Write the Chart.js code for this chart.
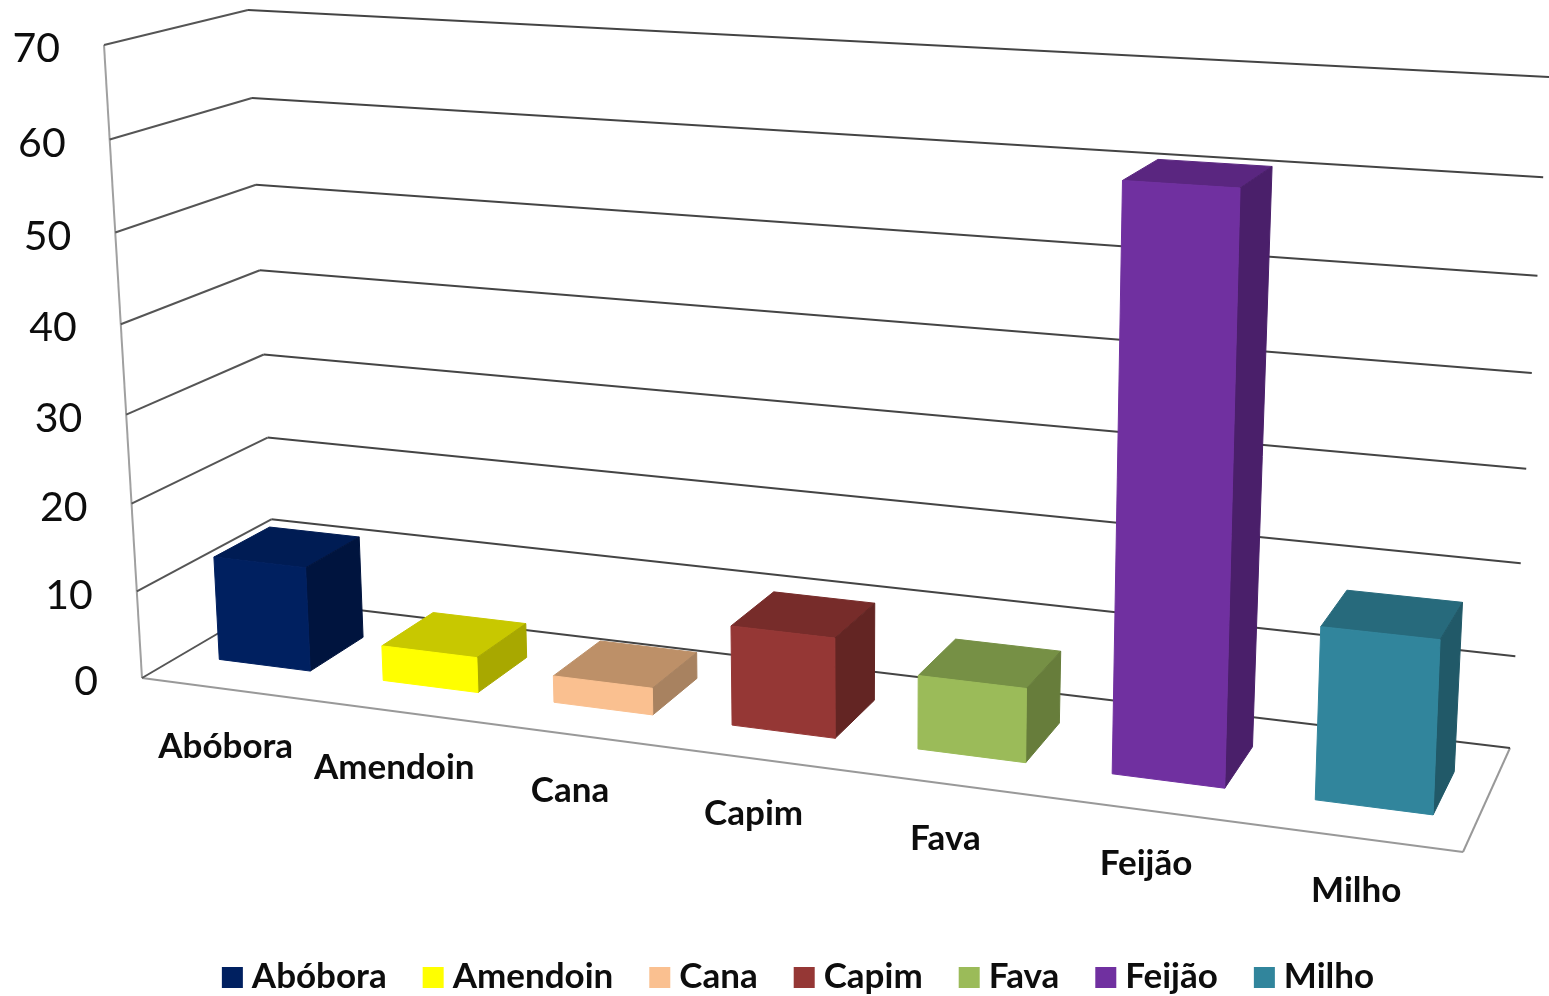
<!DOCTYPE html>
<html>
<head>
<meta charset="utf-8">
<style>
  html, body { margin: 0; padding: 0; background: #fff; }
  canvas { display: block; filter: blur(0.5px); }
</style>
<script src="https://cdn.jsdelivr.net/npm/chart.js@4/dist/chart.umd.min.js"></script>
</head>
<body>
<canvas id="chart" width="1549" height="996"></canvas>
<script>
const categories = ['Abóbora', 'Amendoin', 'Cana', 'Capim', 'Fava', 'Feijão', 'Milho'];
const values = [12, 4, 3, 11, 8, 61, 18];
const frontColors = ['#002060', '#ffff00', '#fac090', '#953735', '#9bbb59', '#7030a0', '#31859c'];
const topColors = ['#001c54', '#c8c800', '#bd9068', '#772c2a', '#769045', '#5a2680', '#276a7c'];
const sideColors = ['#00143e', '#a8a800', '#a88260', '#632523', '#677d3b', '#4a1f6a', '#215968'];
const yTicks = [0, 10, 20, 30, 40, 50, 60, 70];

const FONT = 'Lato, "Noto Sans", sans-serif';

// corners of the box: front-left, front-right, back-right, back-left
const floorQuad = [[142, 678], [1463, 852], [1510, 748], [275, 600]];
const roofQuad = [[104, 45], [1490, 123.5], [1549, 77], [248, 10]];
const depthFront = 0.285;
const depthBack = 0.705;
const barShift = 0.002;

function homography(q) {
    const [x0, y0] = q[0], [x1, y1] = q[1], [x2, y2] = q[2], [x3, y3] = q[3];
    const dx1 = x1 - x2, dx2 = x3 - x2, sx = x0 - x1 + x2 - x3;
    const dy1 = y1 - y2, dy2 = y3 - y2, sy = y0 - y1 + y2 - y3;
    const den = dx1 * dy2 - dx2 * dy1;
    const g = (sx * dy2 - dx2 * sy) / den;
    const h = (dx1 * sy - sx * dy1) / den;
    return [x1 - x0 + g * x1, x3 - x0 + h * x3, x0,
            y1 - y0 + g * y1, y3 - y0 + h * y3, y0, g, h];
}
const floorH = homography(floorQuad);
const roofH = homography(roofQuad);

function applyH(m, u, d) {
    const w = m[6] * u + m[7] * d + 1;
    return [(m[0] * u + m[1] * d + m[2]) / w, (m[3] * u + m[4] * d + m[5]) / w];
}

// u along the categories, v up the value axis, d into the depth (all 0..1)
function project(u, v, d) {
    const a = applyH(floorH, u, d), b = applyH(roofH, u, d);
    const k = 0.95;
    const t = v * k / (1 - v + v * k);
    return [a[0] + (b[0] - a[0]) * t, a[1] + (b[1] - a[1]) * t];
}

function poly(ctx, pts, fill) {
    ctx.beginPath();
    pts.forEach((pt, i) => i ? ctx.lineTo(pt[0], pt[1]) : ctx.moveTo(pt[0], pt[1]));
    ctx.closePath();
    ctx.fillStyle = fill;
    ctx.strokeStyle = fill;
    ctx.lineWidth = 1;
    ctx.fill();
    ctx.stroke();
}

function segment(ctx, a, b, color, width) {
    ctx.beginPath();
    ctx.moveTo(a[0], a[1]);
    ctx.lineTo(b[0], b[1]);
    ctx.strokeStyle = color;
    ctx.lineWidth = width;
    ctx.stroke();
}

const box3d = {
    id: 'box3d',
    // the flat bars are only used for their geometry
    beforeDatasetDraw() { return false; },
    afterDatasetsDraw(chart) {
        const ctx = chart.ctx, area = chart.chartArea;
        const xs = chart.scales.x, ys = chart.scales.y;
        const toU = px => (px - area.left) / area.width;
        const toV = px => (area.bottom - px) / area.height;
        ctx.save();

        // walls and floor
        segment(ctx, project(0, 0, 0), project(0, 1, 0), '#a0a0a0', 2);
        segment(ctx, project(0, 0, 0), project(1, 0, 0), '#999999', 2);
        segment(ctx, project(1, 0, 0), project(1, 0, 1), '#999999', 2);
        yTicks.forEach(t => {
            const v = toV(ys.getPixelForValue(t));
            segment(ctx, project(0, v, 0), project(0, v, 1), '#555555', 2);
            segment(ctx, project(0, v, 1), project(1, v, 1), '#444444', 2);
        });

        // value labels beside the left wall
        ctx.fillStyle = '#0d0d0d';
        ctx.font = '41px ' + FONT;
        ctx.textAlign = 'right';
        ctx.textBaseline = 'middle';
        yTicks.forEach(t => {
            const p = project(0, toV(ys.getPixelForValue(t)), 0);
            ctx.fillText(String(t), p[0] - 44, p[1] + 4);
        });

        // boxes
        const bars = chart.getDatasetMeta(0).data;
        bars.forEach((bar, i) => {
            const half = bar.width / 2;
            const u0 = toU(bar.x - half) + barShift, u1 = toU(bar.x + half) + barShift;
            const v = toV(bar.y);
            const f = depthFront, b = depthBack;
            poly(ctx, [project(u0, v, f), project(u1, v, f), project(u1, v, b), project(u0, v, b)], topColors[i]);
            poly(ctx, [project(u1, 0, f), project(u1, 0, b), project(u1, v, b), project(u1, v, f)], sideColors[i]);
            poly(ctx, [project(u0, 0, f), project(u1, 0, f), project(u1, v, f), project(u0, v, f)], frontColors[i]);
        });

        // category labels under the front edge
        ctx.fillStyle = '#0d0d0d';
        ctx.font = 'bold 35px ' + FONT;
        ctx.textAlign = 'center';
        categories.forEach((name, i) => {
            const u = toU(xs.getPixelForValue(i));
            const p = project(u, 0, 0);
            ctx.fillText(name, p[0] + 2, p[1] + 58 - 5 * u);
        });

        // legend
        const swatch = 21, gap = 9, spacing = 36;
        ctx.textAlign = 'left';
        const widths = categories.map(n => ctx.measureText(n).width);
        const total = widths.reduce((s, w) => s + swatch + gap + w, 0) + spacing * (categories.length - 1);
        let x = 798 - total / 2;
        categories.forEach((name, i) => {
            ctx.fillStyle = frontColors[i];
            ctx.fillRect(x, 967, swatch, swatch);
            ctx.fillStyle = '#0d0d0d';
            ctx.fillText(name, x + swatch + gap, 977);
            x += swatch + gap + widths[i] + spacing;
        });
        ctx.restore();
    }
};

new Chart(document.querySelector('#chart'), {
    type: 'bar',
    data: {
        labels: categories,
        datasets: [{
            label: 'Valores',
            data: values,
            backgroundColor: frontColors,
            categoryPercentage: 0.56,
            barPercentage: 1
        }]
    },
    options: {
        responsive: false,
        animation: false,
        devicePixelRatio: 1,
        layout: { padding: 0 },
        scales: {
            x: { display: false },
            y: { display: false, min: 0, max: 70, ticks: { stepSize: 10 } }
        },
        plugins: {
            legend: { display: false },
            tooltip: { enabled: false }
        }
    },
    plugins: [box3d]
});
</script>
</body>
</html>
